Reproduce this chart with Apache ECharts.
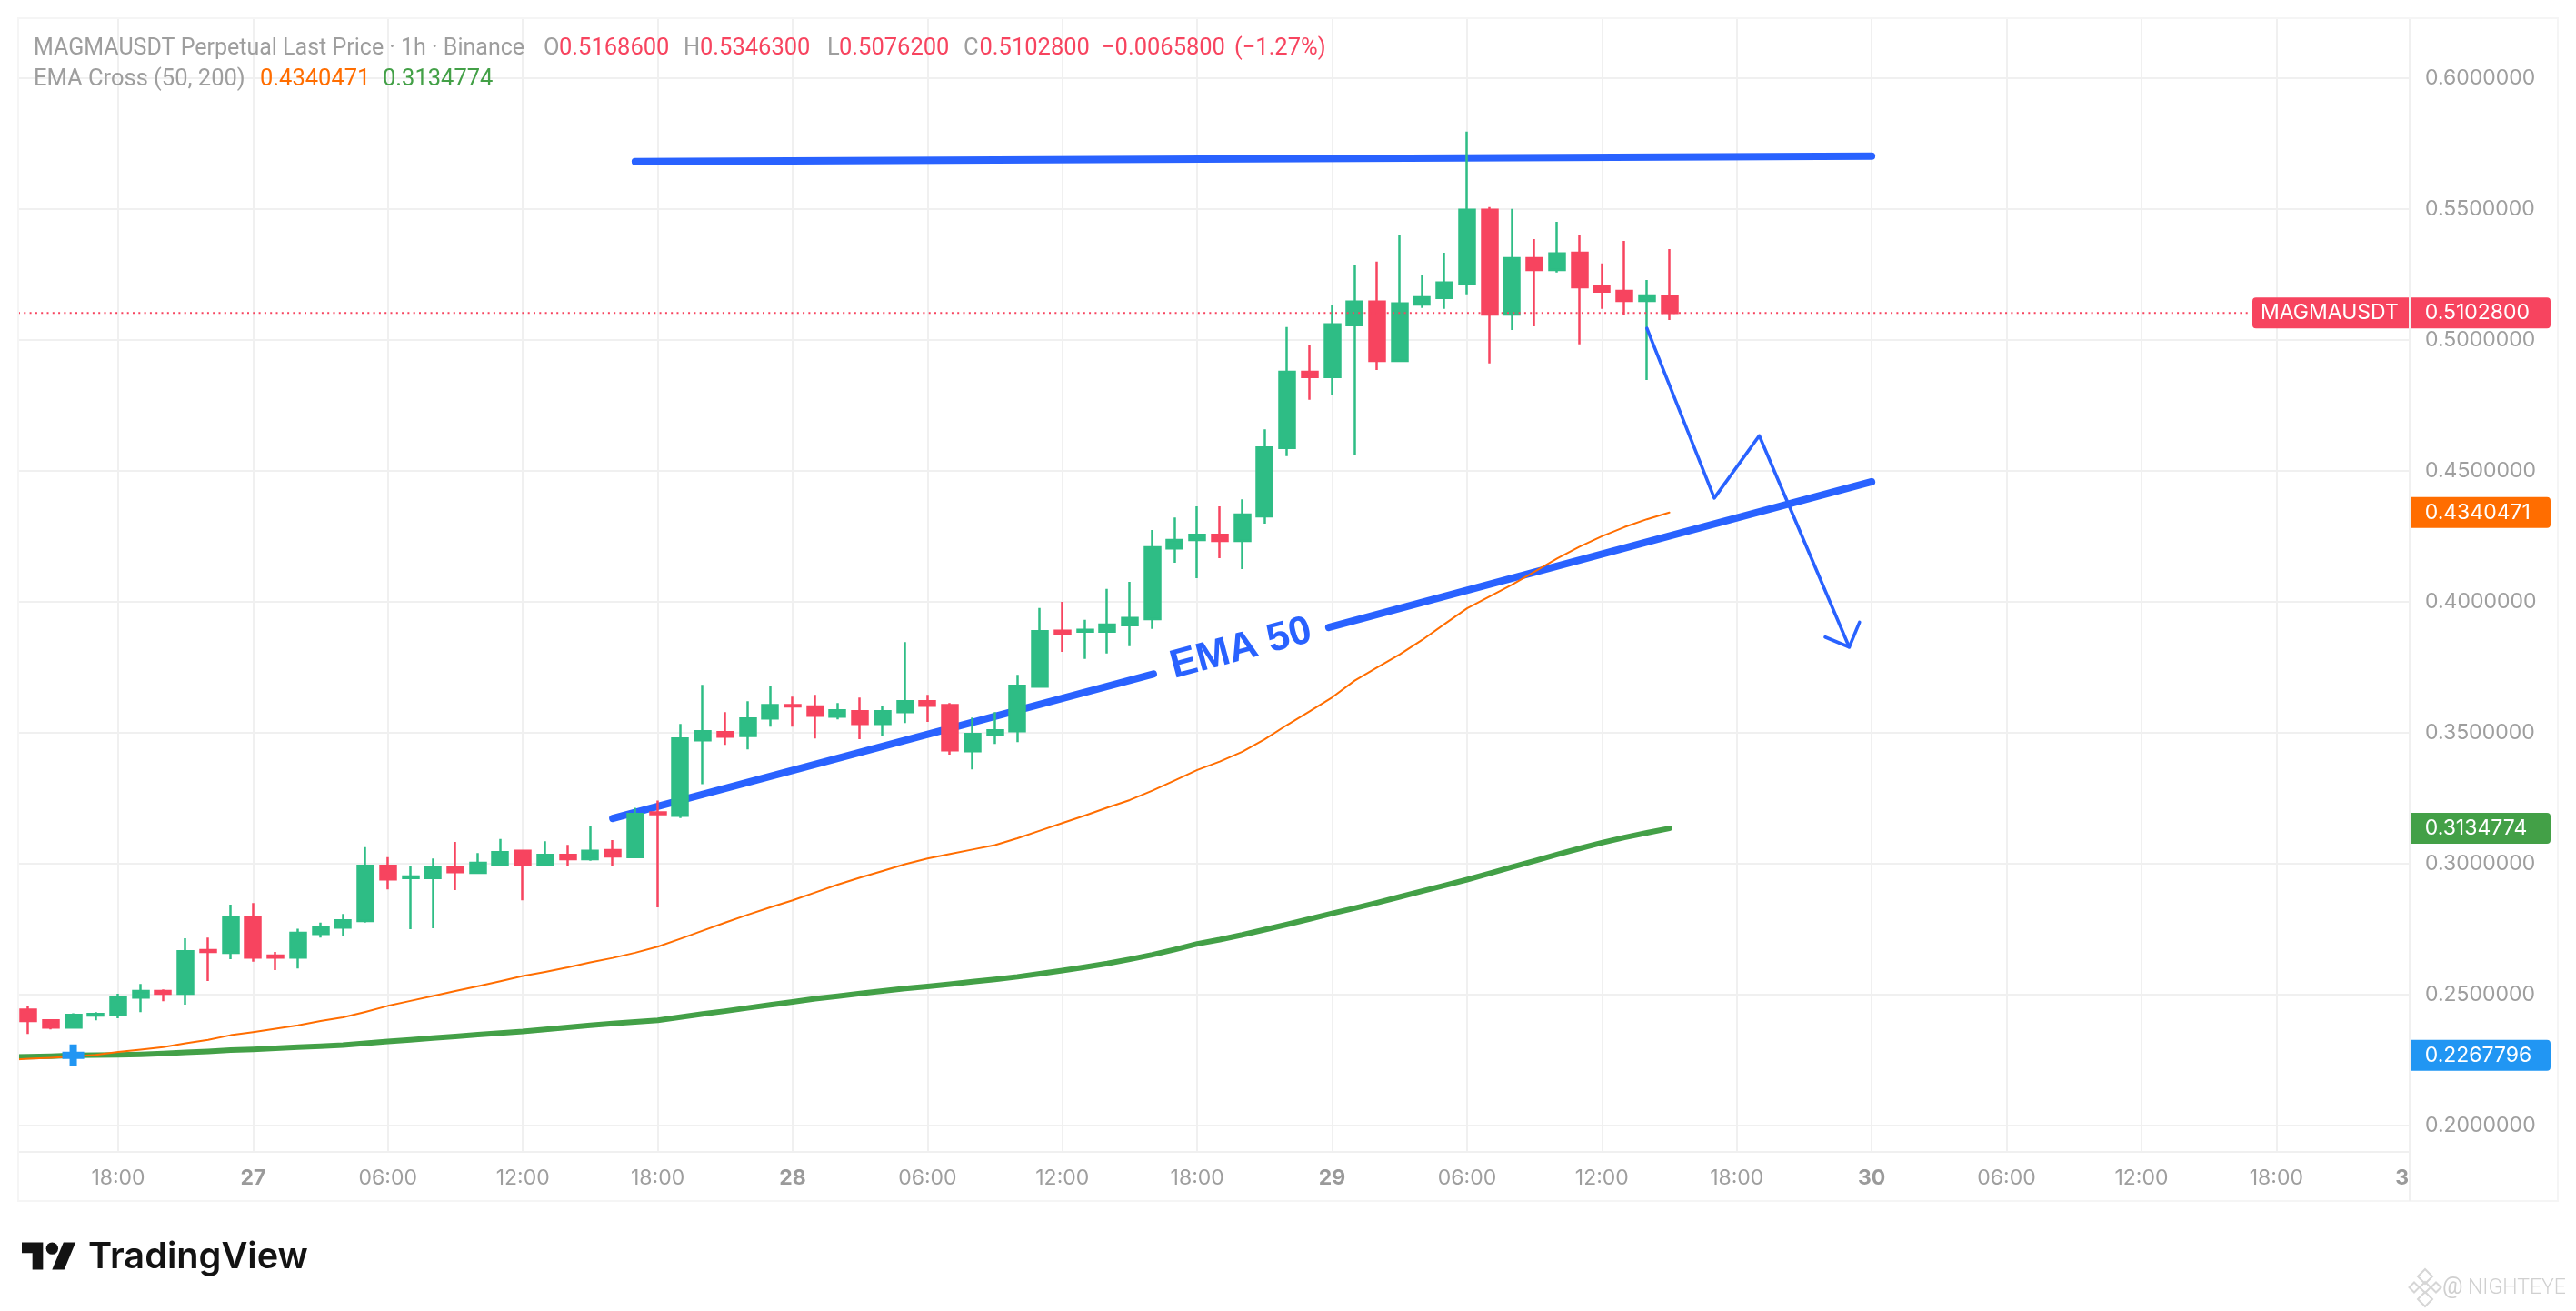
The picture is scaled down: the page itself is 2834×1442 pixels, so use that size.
<!DOCTYPE html>
<html><head><meta charset="utf-8">
<style>html,body{margin:0;padding:0;background:#fff}#c{width:2834px;height:1442px}</style>
<script src="https://cdn.jsdelivr.net/npm/echarts@6/dist/echarts.min.js"></script>
</head><body><div id="c"></div>
<script>
// Hours are counted from 18:00 on the 26th.
const firstCandleHour = -4;
const opens = [.2443,.2402,.2374,.2420,.2423,.2489,.2514,.2503,.2670,.2660,.2794,.2649,.2641,.2732,.2756,.2781,.2992,.2945,.2945,.2986,.2965,.2997,.3049,.2997,.3034,.3017,.3052,.3025,.3196,.3183,.3471,.3502,.3488,.3554,.3606,.3600,.3561,.3582,.3534,.3579,.3620,.3606,.3429,.3492,.3506,.3676,.3889,.3886,.3886,.3910,.3934,.4204,.4236,.4256,.4232,.4326,.4587,.4878,.4858,.5056,.5146,.4920,.5135,.5160,.5215,.5497,.5097,.5312,.5267,.5333,.5205,.5187,.5149,.51686];
const closes = [.2399,.2374,.2423,.2426,.2492,.2514,.2503,.2666,.2663,.2794,.2641,.2641,.2736,.2759,.2784,.2992,.2940,.2951,.2986,.2968,.3003,.3044,.2997,.3034,.3017,.3049,.3028,.3190,.3189,.3478,.3506,.3485,.3554,.3606,.3600,.3565,.3586,.3534,.3582,.3620,.3603,.3433,.3495,.3509,.3679,.3888,.3879,.3893,.3913,.3938,.4208,.4236,.4256,.4232,.4333,.4589,.4878,.4858,.5059,.5146,.4920,.5139,.5163,.5219,.5497,.5097,.5312,.5267,.5330,.5201,.5184,.5149,.5170,.51028];
const lows = [.2350,.2367,.2374,.2402,.2410,.2433,.2475,.2462,.2552,.2635,.2626,.2594,.2600,.2718,.2725,.2775,.2902,.2750,.2753,.2899,.2965,.2997,.2860,.2992,.2992,.3011,.2989,.3025,.2833,.3174,.3304,.3454,.3436,.3523,.3523,.3478,.3551,.3475,.3488,.3537,.3541,.3416,.3360,.3457,.3464,.3676,.3809,.3782,.3803,.3830,.3896,.4149,.4090,.4166,.4125,.4298,.4556,.4771,.4788,.4559,.4885,.4917,.5122,.5118,.5174,.4910,.5038,.5052,.5257,.4983,.5118,.5094,.4847,.50762];
const highs = [.2457,.2402,.2429,.2433,.2503,.2541,.2520,.2715,.2718,.2844,.2850,.2663,.2752,.2775,.2808,.3063,.3025,.2992,.3020,.3083,.3041,.3094,.3052,.3086,.3072,.3143,.3090,.3213,.3241,.3534,.3683,.3579,.3620,.3679,.3638,.3645,.3613,.3634,.3600,.3846,.3645,.3613,.3558,.3579,.3721,.3976,.4000,.3931,.4049,.4076,.4274,.4322,.4364,.4364,.4391,.4658,.5049,.4979,.5132,.5288,.5299,.5399,.5247,.5333,.5795,.5507,.5500,.5385,.5451,.5399,.5292,.5378,.5229,.53463];
const firstEmaHour = -5;
const ema50 = [.2250,.2255,.2259,.2264,.2270,.2281,.2290,.2299,.2314,.2327,.2345,.2357,.2370,.2383,.2399,.2413,.2434,.2457,.2476,.2495,.2514,.2532,.2551,.2571,.2587,.2604,.2623,.2640,.2660,.2683,.2713,.2744,.2775,.2805,.2833,.2860,.2890,.2920,.2947,.2972,.2998,.3020,.3037,.3054,.3071,.3097,.3126,.3155,.3184,.3214,.3243,.3279,.3318,.3358,.3390,.3427,.3475,.3530,.3582,.3635,.3699,.3749,.3799,.3854,.3915,.3975,.4020,.4065,.4115,.4165,.4210,.4250,.4285,.4315,.4340471];
const ema200 = [.2262,.2263,.2265,.2268,.2269,.2270,.2272,.2275,.2279,.2283,.2288,.2291,.2295,.2299,.2303,.2307,.2314,.2321,.2327,.2334,.2340,.2347,.2353,.2359,.2367,.2375,.2383,.2390,.2396,.2402,.2414,.2426,.2437,.2449,.2461,.2472,.2484,.2494,.2504,.2514,.2523,.2531,.2540,.2549,.2558,.2568,.2580,.2592,.2605,.2619,.2635,.2652,.2672,.2694,.2710,.2728,.2748,.2768,.2789,.2810,.2830,.2851,.2873,.2895,.2917,.2939,.2963,.2987,.3011,.3035,.3058,.3080,.3100,.3118,.3134774];
const topLine = [[23,.5681],[78,.5702]];
const trendLower = [[22,.3173],[46.05,.3724]];
const trendUpper = [[53.85,.3902],[78,.4458]];
const zigzag = [[68,.5044],[71,.4396],[73,.4634],[77,.3827]];
const arrowHead = [[75.93,.3865],[77,.3827],[77.46,.3922]];
const cursorPoint = [[-2,.2267796]];
const lastPrice = .51028;
const lastPriceEnd = 94.95;
const emaLabelAnchor = [[49.95,.3820]];
const priceTicks = [.2,.25,.3,.35,.4,.45,.5,.55,.6];
const timeTicks = [0,6,12,18,24,30,36,42,48,54,60,66,72,78,84,90,96];
const timeLabels = ['18:00','27','06:00','12:00','18:00','28','06:00','12:00','18:00','29','06:00','12:00','18:00','30','06:00','12:00','18:00'];

const RED='#F7445F',GREEN='#2EBD85',BLUE='#2962FF',ORANGE='#FF6D00',EMA_G='#43A047',CURSOR='#2196F3',GRID='#F0F0F0',TXT='#9E9E9E';
const LBL='"Inter"',HDR='"Roboto"';
const hoursFrom=(start,arr)=>arr.map((v,i)=>[start+i,v]);
const candles=opens.map((o,i)=>[firstCandleHour+i,o,closes[i],lows[i],highs[i]]);
const line=(name,data,color,width,z,extra)=>Object.assign({type:'line',name,data,showSymbol:false,symbol:'none',silent:true,z,
  lineStyle:{color,width,cap:'round',join:'round'}},extra||{});

const chart=echarts.init(document.getElementById('c'),null,{renderer:'canvas'});
const option={
  animation:false,backgroundColor:'#fff',
  grid:{left:20,top:20,right:183,bottom:175.5,containLabel:false},
  xAxis:{type:'value',min:-4.448,max:101.93,
    axisLine:{show:true,onZero:false,lineStyle:{color:GRID,width:2}},
    axisTick:{show:false,customValues:timeTicks},
    splitLine:{show:true,lineStyle:{color:GRID,width:2}},
    axisLabel:{customValues:timeTicks,margin:18,fontFamily:LBL,fontSize:23,color:TXT,
      formatter:v=>{const s=timeLabels[timeTicks.indexOf(v)];return s.length===2?'{b|'+s+'}':s;},
      rich:{b:{fontFamily:LBL,fontSize:23,fontWeight:700,color:'#9A9A9A'}}}},
  yAxis:{type:'value',position:'right',min:.1901,max:.62285,
    axisLine:{show:true,onZero:false,lineStyle:{color:GRID,width:2}},
    axisTick:{show:false,customValues:priceTicks},
    splitLine:{show:true,lineStyle:{color:GRID,width:2}},
    axisLabel:{customValues:priceTicks,margin:17,fontFamily:LBL,fontSize:23,color:TXT,formatter:v=>v.toFixed(7)}},
  series:[
    line('top',topLine,BLUE,8,2),
    line('trend lower',trendLower,BLUE,8,2),
    line('trend upper',trendUpper,BLUE,8,2),
    line('EMA 200',hoursFrom(firstEmaHour,ema200),EMA_G,6,2.5),
    line('EMA 50',hoursFrom(firstEmaHour,ema50),ORANGE,2,2.5),
    {type:'candlestick',name:'MAGMAUSDT',data:candles,z:3,barWidth:17.5,silent:true,
      itemStyle:{color:GREEN,color0:RED,borderColor:GREEN,borderColor0:RED,borderWidth:2.5}},
    {type:'line',name:'last',data:[[-4.448,lastPrice],[lastPriceEnd,lastPrice]],symbol:'none',showSymbol:false,silent:true,z:4,
      lineStyle:{color:RED,width:2,type:[2,4.3]}},
    line('zigzag',zigzag,BLUE,3.6,5),
    line('arrow',arrowHead,BLUE,3.6,5),
    {type:'scatter',name:'cursor',data:cursorPoint,z:6,silent:true,symbol:'path://M8 0h8v8h8v8h-8v8H8v-8H0V8h8z',symbolSize:24,itemStyle:{color:CURSOR,opacity:1}},
    {type:'scatter',name:'label',data:emaLabelAnchor,z:6,silent:true,symbolSize:2,itemStyle:{color:'rgba(255,255,255,0)',opacity:1},
      label:{show:true,position:'inside',formatter:'EMA 50',rotate:15,color:BLUE,fontFamily:'"Liberation Sans"',fontWeight:700,fontSize:44,align:'center',verticalAlign:'middle'}}
  ]
};
chart.setOption(option);

function txt(x,y,text,fill,font,align){return {type:'text',z:50,silent:true,style:{x,y,text,fill,font,textAlign:align||'left',textVerticalAlign:'middle',verticalAlign:'middle',align:align||'left'}};}
const hf='25.5px '+HDR, lf='23px '+LBL;
const els=[];
// trims the EMA overhang left of the plot
els.push({type:'rect',z:30,silent:true,shape:{x:0,y:0,width:19,height:1442},style:{fill:'#fff'}});
els.push({type:'rect',z:31,silent:true,shape:{x:20,y:20,width:2794,height:1301},style:{fill:'none',stroke:'#F5F5F5',lineWidth:2}});
els.push({type:'line',z:31,silent:true,shape:{x1:2651,y1:1266,x2:2651,y2:1321},style:{stroke:GRID,lineWidth:2}});
// header
els.push(txt(37,53.5,'MAGMAUSDT Perpetual Last Price · 1h · Binance',TXT,'25px '+HDR));
[[598,53.5,'O',TXT],[615,53.5,'0.5168600',RED],
 [752,53.5,'H',TXT],[770,53.5,'0.5346300',RED],
 [910,53.5,'L',TXT],[923,53.5,'0.5076200',RED],
 [1060,53.5,'C',TXT],[1077.5,53.5,'0.5102800',RED],
 [1212,53.5,'−0.0065800',RED],[1358,53.5,'(−1.27%)',RED],
 [37,87.5,'EMA Cross (50, 200)',TXT],[286,87.5,'0.4340471',ORANGE],[421,87.5,'0.3134774',EMA_G]
].forEach(a=>els.push(txt(a[0],a[1],a[2],a[3],hf)));
// price tags
const tags=[[lastPrice,'0.5102800',RED],[.4340471,'0.4340471',ORANGE],[.3134774,'0.3134774',EMA_G],[.2267796,'0.2267796',CURSOR]];
tags.forEach(t=>{
  const y=chart.convertToPixel({yAxisIndex:0},t[0]);
  els.push({type:'rect',z:40,silent:true,shape:{x:2652,y:y-17,width:154,height:34,r:[0,4,4,0]},style:{fill:t[2]}});
  els.push(txt(2667.7,y,t[1],'#fff',lf));
});
const yl=chart.convertToPixel({yAxisIndex:0},lastPrice);
els.push({type:'rect',z:40,silent:true,shape:{x:2478,y:yl-17,width:172,height:34,r:[4,0,0,4]},style:{fill:RED}});
els.push(txt(2487,yl,'MAGMAUSDT','#fff',lf));
// clipped next-month tick
els.push(txt(2650,1296,'3','#9A9A9A','700 23px '+LBL,'right'));
// TradingView logo
const L=(px,py)=>[24+1.667*px,1366.5+1.667*(py-4)];
els.push({type:'polygon',z:50,silent:true,shape:{points:[L(0,4),L(14,4),L(14,22),L(7,22),L(7,11),L(0,11)]},style:{fill:'#131313'}});
els.push({type:'polygon',z:50,silent:true,shape:{points:[L(20,22),L(28,22),L(35.5,4),L(27.5,4)]},style:{fill:'#131313'}});
els.push({type:'circle',z:50,silent:true,shape:{cx:L(20,8)[0],cy:L(20,8)[1],r:4*1.667},style:{fill:'#131313'}});
els.push(txt(97,1383,'TradingView','#131313','600 39.7px '+LBL));
// watermark
[[2668,1404,8],[2656,1416,5.5],[2680,1416,5.5],[2668,1429,8],[2668,1416,6]].forEach(d=>{
  els.push({type:'polygon',z:50,silent:true,shape:{points:[[d[0],d[1]-d[2]],[d[0]+d[2],d[1]],[d[0],d[1]+d[2]],[d[0]-d[2],d[1]]]},style:{fill:'none',stroke:'#D6D6D6',lineWidth:2}});
});
els.push(txt(2687,1417,'@','#D0D0D0','25px '+HDR));
els.push(txt(2715,1417,'NIGHTEYE','#D0D0D0','300 23px '+HDR));
chart.setOption({graphic:{elements:els}});
</script></body></html>
